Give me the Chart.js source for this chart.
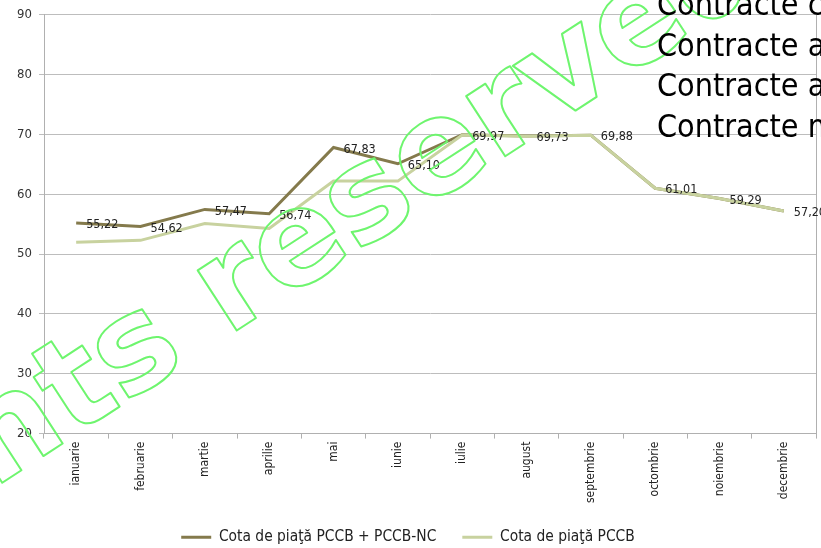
<!DOCTYPE html>
<html>
<head>
<meta charset="utf-8">
<script src="https://cdn.jsdelivr.net/npm/chart.js@4"></script>
<style>
html,body{margin:0;padding:0;background:#fff;overflow:hidden;}
#wrap{position:relative;width:821px;height:548px;}
</style>
</head>
<body>
<div id="wrap"><canvas id="c"></canvas></div>
<script>
const categories = ['ianuarie','februarie','martie','aprilie','mai','iunie','iulie','august','septembrie','octombrie','noiembrie','decembrie'];
const seriesTotal = [55.22, 54.62, 57.47, 56.74, 67.83, 65.10, 69.97, 69.73, 69.88, 61.01, 59.29, 57.20];
const seriesPCCB = [52.0, 52.3, 55.1, 54.3, 62.2, 62.2, 69.9, 69.7, 69.88, 61.01, 59.29, 57.20];
const seriesNames = ['Cota de piaţă PCCB + PCCB-NC', 'Cota de piaţă PCCB'];
const yTicks = [20, 30, 40, 50, 60, 70, 80, 90];
const overlayLines = ['Contracte c', 'Contracte a', 'Contracte a', 'Contracte n'];
const watermarkText = 'rights reserved';

const DARK = '#847a4c';
const LIGHT = '#c8d29f';
const FONT = '"DejaVu Sans Condensed", "DejaVu Sans", sans-serif';

const extras = {
  id: 'extras',
  beforeDatasetsDraw(chart) {
    const {ctx, chartArea: a} = chart;
    ctx.save();
    ctx.strokeStyle = '#b0b0b0';
    ctx.lineWidth = 1;
    ctx.beginPath();
    ctx.moveTo(Math.round(a.right) + 0.5, a.top);
    ctx.lineTo(Math.round(a.right) + 0.5, a.bottom);
    ctx.stroke();
    ctx.restore();
  },
  afterDatasetsDraw(chart) {
    const ctx = chart.ctx;
    const meta = chart.getDatasetMeta(0);
    const data = chart.data.datasets[0].data;
    ctx.save();
    ctx.font = '12.5px ' + FONT;
    ctx.fillStyle = '#222';
    ctx.textAlign = 'left';
    ctx.textBaseline = 'middle';
    meta.data.forEach((pt, i) => {
      ctx.fillText(data[i].toFixed(2).replace('.', ','), pt.x + 10, pt.y + 2);
    });
    ctx.restore();
  },
  afterDraw(chart) {
    const ctx = chart.ctx;
    // watermark
    ctx.save();
    ctx.translate(-196, 571);
    ctx.rotate(-33 * Math.PI / 180);
    ctx.font = 'bold 131px "DejaVu Sans", sans-serif';
    ctx.strokeStyle = 'rgb(110,245,110)';
    ctx.lineWidth = 2;
    ctx.lineJoin = 'round';
    ctx.strokeText(watermarkText, 0, 0);
    ctx.restore();
    // overlay text
    ctx.save();
    ctx.font = '32px ' + FONT;
    ctx.fillStyle = '#000';
    ctx.textAlign = 'left';
    ctx.textBaseline = 'alphabetic';
    const baselines = [15, 56, 96, 137];
    overlayLines.forEach((t, i) => ctx.fillText(t, 657, baselines[i]));
    ctx.restore();
  }
};

new Chart(document.getElementById('c'), {
  type: 'line',
  data: {
    labels: categories,
    datasets: [
      {label: seriesNames[0], data: seriesTotal, borderColor: DARK, backgroundColor: DARK, borderWidth: 3, pointRadius: 0, tension: 0, order: 1},
      {label: seriesNames[1], data: seriesPCCB, borderColor: LIGHT, backgroundColor: LIGHT, borderWidth: 3, pointRadius: 0, tension: 0, order: 0}
    ]
  },
  options: {
    responsive: true,
    maintainAspectRatio: false,
    animation: false,
    layout: {padding: {top: 14, right: 5, left: 0, bottom: -7}},
    plugins: {
      tooltip: {enabled: false},
      legend: {
        position: 'bottom',
        labels: {
          boxWidth: 30,
          boxHeight: 3,
          padding: 26,
          color: '#222',
          font: {family: FONT, size: 15.4},
          sort: (a, b) => a.datasetIndex - b.datasetIndex,
          generateLabels(chart) {
            const items = Chart.defaults.plugins.legend.labels.generateLabels(chart);
            items.forEach(it => { it.lineWidth = 0; });
            return items;
          }
        }
      }
    },
    scales: {
      x: {
        offset: true,
        grid: {display: true, drawOnChartArea: false, offset: true, tickLength: 5, color: '#b0b0b0'},
        border: {color: '#b0b0b0'},
        ticks: {minRotation: 90, maxRotation: 90, autoSkip: false, padding: 3, color: '#222', font: {family: FONT, size: 12}},
        afterFit(s) { s.height = 70; }
      },
      y: {
        min: 20, max: 90,
        afterBuildTicks(s) { s.ticks = yTicks.map(v => ({value: v})); },
        grid: {color: '#bdbdbd', tickLength: 5},
        border: {color: '#b0b0b0'},
        ticks: {padding: 7, color: '#333', font: {family: FONT, size: 13}},
        afterFit(s) { s.width = 44; }
      }
    }
  },
  plugins: [extras]
});
</script>
</body>
</html>
